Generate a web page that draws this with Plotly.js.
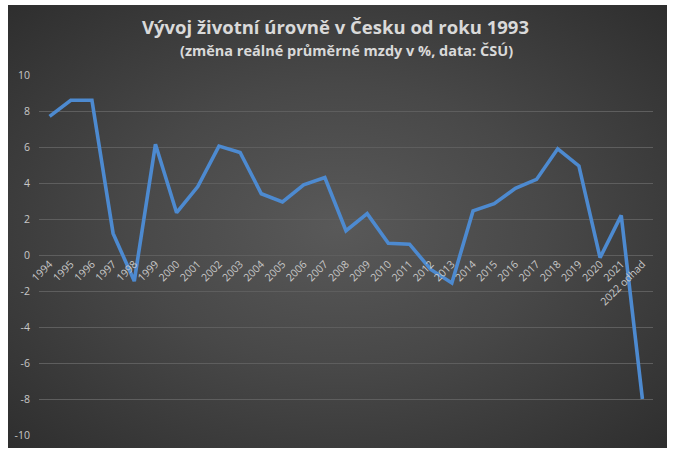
<!DOCTYPE html>
<html>
<head>
<meta charset="utf-8">
<script src="https://cdn.plot.ly/plotly-3.0.1.min.js"></script>
<style>
  html, body { margin: 0; padding: 0; background: #ffffff; width: 674px; height: 455px; overflow: hidden; }
  #chart {
    position: absolute; left: 8px; top: 5px; width: 659px; height: 443px;
    background: radial-gradient(ellipse at 50% 50%, #595959 0%, #484848 45%, #2e2e2e 100%);
  }
</style>
</head>
<body>
<div id="chart"></div>
<script>
const years = ["1994","1995","1996","1997","1998","1999","2000","2001","2002","2003",
  "2004","2005","2006","2007","2008","2009","2010","2011","2012","2013",
  "2014","2015","2016","2017","2018","2019","2020","2021","2022 odhad"];
const realWageChange = [7.7, 8.6, 8.6, 1.2, -1.45, 6.15, 2.35, 3.8, 6.05, 5.7,
  3.4, 2.95, 3.9, 4.3, 1.35, 2.3, 0.65, 0.6, -0.8, -1.55,
  2.45, 2.85, 3.7, 4.2, 5.9, 4.95, -0.15, 2.2, -8.0];
const yTicks = [-10, -8, -6, -4, -2, 0, 2, 4, 6, 8, 10];
const titleText = 'Vývoj životní úrovně v Česku od roku 1993';
const subtitleText = '(změna reálné průměrné mzdy v %, data: ČSÚ)';

const trace = {
  x: years, y: realWageChange, type: 'scatter', mode: 'lines',
  line: { color: '#4d8ad0', width: 3.6 }, hoverinfo: 'x+y'
};

const layout = {
  width: 659, height: 443,
  paper_bgcolor: 'rgba(0,0,0,0)', plot_bgcolor: 'rgba(0,0,0,0)',
  margin: { l: 31, r: 14, t: 70, b: 13 },
  showlegend: false,
  title: {
    text: '<b>' + titleText + '</b>',
    font: { family: 'Open Sans, Lato, sans-serif', size: 18.5, color: '#d9d9d9' },
    x: 0.497, xanchor: 'center', y: 0.950, yanchor: 'middle'
  },
  annotations: [{
    text: '<b>' + subtitleText + '</b>',
    xref: 'paper', yref: 'paper', x: 0.5, y: 1.067, xanchor: 'center', yanchor: 'middle',
    showarrow: false,
    font: { family: 'Open Sans, Lato, sans-serif', size: 14.5, color: '#d9d9d9' }
  }],
  xaxis: {
    type: 'category', range: [-0.5, 28.5],
    anchor: 'free', position: 0.5,
    showgrid: false, zeroline: false, showline: false,
    tickangle: -45, ticks: '',
    tickfont: { family: 'Open Sans, Lato, sans-serif', size: 10.5, color: '#c8c8c8' }
  },
  yaxis: {
    range: [-10, 10], tickvals: yTicks, ticktext: yTicks.map(String),
    showgrid: true, gridcolor: '#5e5e5e', gridwidth: 1,
    zeroline: false, showline: false, ticks: '',
    ticklabelstandoff: 8,
    tickfont: { family: 'Open Sans, Lato, sans-serif', size: 10.5, color: '#c8c8c8' }
  }
};

Plotly.newPlot('chart', [trace], layout, { displayModeBar: false, staticPlot: true });
</script>
</body>
</html>
